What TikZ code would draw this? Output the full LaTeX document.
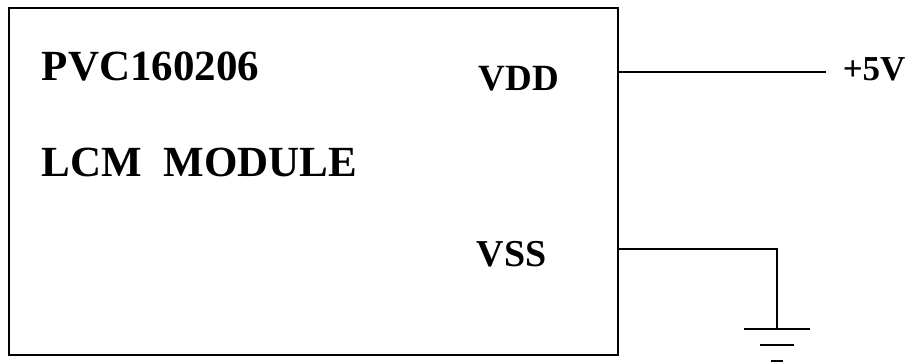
\documentclass[tikz,border=0pt]{standalone}
\usepackage{fontspec}
\setmainfont{Liberation Serif}
\usetikzlibrary{positioning,calc}

\begin{document}
\begin{tikzpicture}[x=1pt, y=1pt, line width=1.5pt,
    module/.style={rectangle, draw, minimum width=609pt, minimum height=347pt, inner sep=0pt},
    title/.style={anchor=base west, inner sep=0pt, font=\bfseries\fontsize{43}{43}\selectfont},
    pin/.style={anchor=base west, inner sep=0pt, font=\bfseries\fontsize{37}{37}\selectfont}]

    \useasboundingbox (0,0) rectangle (912,363);

    \node[module] (lcm) at (313.5,181.5) {};
    \node[title] (part) at (41,282) {PVC160206};
    \node[title] (name) at (41,186) {LCM\ \ MODULE};
    \node[pin] (vdd) at (478,272) {VDD};
    \node[pin, font=\bfseries\fontsize{38}{38}\selectfont] (vss) at (476,96) {VSS};
    \node[pin, font=\bfseries\fontsize{35}{35}\selectfont] (supply) at (842,282) {+5V};

    % pin ends on the module edge
    \coordinate (vddpin) at (lcm.east |- 0,291);
    \coordinate (vsspin) at (lcm.east |- 0,114);
    \coordinate (vddend) at (826,291);
    \coordinate (gnd) at (777,34);

    \draw (vddpin) -- (vddend);
    \draw (vsspin) -| (gnd);

    % ground symbol
    \draw ($(gnd)+(-33,0)$) -- ($(gnd)+(33,0)$);
    \draw ($(gnd)+(-17,-16)$) -- ($(gnd)+(17,-16)$);
    \draw ($(gnd)+(-6,-32)$) -- ($(gnd)+(6,-32)$);
\end{tikzpicture}
\end{document}
